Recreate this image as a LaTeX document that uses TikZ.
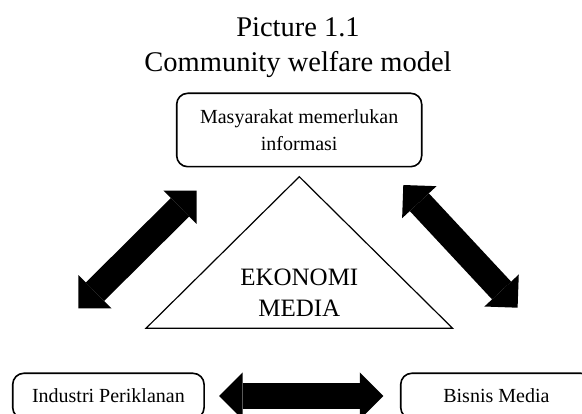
\documentclass[tikz,border=0pt]{standalone}
\usepackage{fontspec}
\setmainfont{Liberation Serif}
\usepackage{tikz}
\usetikzlibrary{arrows.meta,positioning,calc}

\begin{document}
\begin{tikzpicture}[x=1pt, y=-1pt,
  every node/.style={font=\fontsize{20}{26.5}\selectfont, align=center},
  box/.style={draw, line width=1.6pt, rounded corners=11pt, inner sep=0pt},
  fattip/.style={Triangle[length=23.5pt, width=47pt, line width=0pt]},
  bigarrow/.style={line width=26pt, {Triangle[length=23.5pt, width=47pt, line width=0pt]}-{Triangle[length=23.5pt, width=47pt, line width=0pt]}}]

%% ── Page (1pt = 1px of the 582x414 frame, y grows downward) ─────────────────
\useasboundingbox (0,0) rectangle (582,414);
\clip (0,0) rectangle (582,414);

%% ── Title ────────────────────────────────────────────────────────────────────
\node[font=\fontsize{28.5}{35}\selectfont] (title) at (298,47.5)
  {Picture 1.1\\Community welfare model};

%% ── Boxes ────────────────────────────────────────────────────────────────────
\node[box, minimum width=245pt, minimum height=73.4pt] (info) at (299.2,130)
  {Masyarakat memerlukan\\informasi};
\node[box, minimum width=191.3pt, minimum height=45.4pt] (iklan) at (108.4,396)
  {Industri Periklanan};
\node[box, minimum width=191.3pt, minimum height=45.4pt] (bisnis) at (496.4,396)
  {Bisnis Media};

%% ── Triangle ─────────────────────────────────────────────────────────────────
\coordinate (apex)  at (299.3,176.7);
\coordinate (baseL) at (146,328.3);
\coordinate (baseR) at (452.6,328.3);
\draw[line width=1.2pt, line join=miter] (apex) -- (baseL) -- (baseR) -- cycle;
\node[font=\fontsize{25}{31.7}\selectfont] (eko) at (299.3,292.6)
  {EKONOMI\\MEDIA};

%% ── Double arrows ────────────────────────────────────────────────────────────
\coordinate (lA) at (78.3,308.3);
\coordinate (lB) at (196.7,190.7);
\coordinate (rA) at (403.3,185);
\coordinate (rB) at (517.6,307.7);
\draw[bigarrow] (lA) -- (lB);
\draw[bigarrow] (rA) -- (rB);
\draw[bigarrow, shorten <=14.3pt, shorten >=16.7pt] (iklan.east) -- (bisnis.west);

\end{tikzpicture}
\end{document}
